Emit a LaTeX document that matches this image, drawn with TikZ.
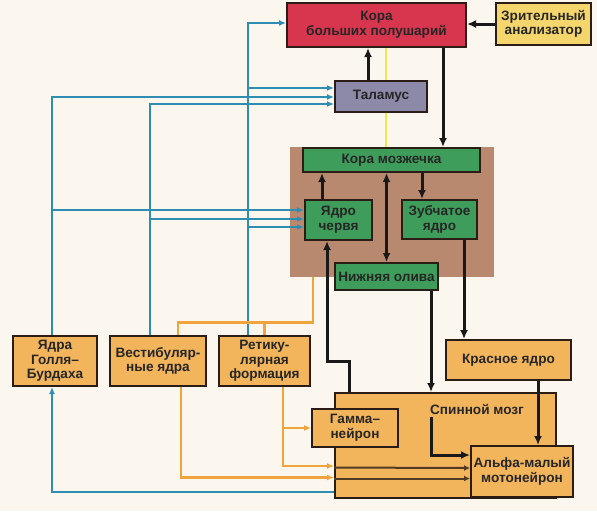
\documentclass[tikz,border=0pt]{standalone}
\usepackage{fontspec}
\setmainfont{Liberation Sans}
\usetikzlibrary{arrows.meta,calc}
\definecolor{paper}{HTML}{FBF7EE}
\definecolor{cortexred}{HTML}{D8364E}
\definecolor{visyellow}{HTML}{F5D66C}
\definecolor{thalgray}{HTML}{8D89A8}
\definecolor{cblbrown}{HTML}{B8896F}
\definecolor{cblgreen}{HTML}{3F9D5B}
\definecolor{boxorange}{HTML}{F3B55C}
\definecolor{edge}{HTML}{2B1D15}
\definecolor{nerveblue}{HTML}{2E8DB3}
\definecolor{nerveorange}{HTML}{F2A43C}
\definecolor{nerveyellow}{HTML}{F1E64A}
\begin{document}
\begin{tikzpicture}[x=0.5pt, y=-0.5pt,
    box/.style={draw=edge, line width=1pt, align=center, inner sep=0pt, text=black!85,
        font=\fontsize{6.8}{7.3}\selectfont\bfseries},
    blk/.style={draw=black!90, line width=1.5pt, -{Latex[length=4.5pt,width=4pt]}},
    dbl/.style={blk, {Latex[length=4.5pt,width=4pt]}-{Latex[length=4.5pt,width=4pt]}},
    bl/.style={draw=nerveblue, line width=1.2pt, -{Latex[length=3.5pt,width=3pt]}},
    orl/.style={draw=nerveorange, line width=1.1pt},
    ora/.style={orl, -{Latex[length=3.5pt,width=3pt]}},
    dk/.style={draw=edge!80!boxorange, line width=1pt, -{Latex[length=3pt,width=3pt]}}]
        \fill[paper] (0,0) rectangle (597,511);
        \node[fill=cblbrown, minimum width=102pt, minimum height=65pt] (cbl) at (392,212) {};
        \node[box, fill=cortexred, minimum width=89.5pt, minimum height=22pt] (cortex) at (376.5,25) {Кора\\больших полушарий};
        \node[box, fill=visyellow, minimum width=47.5pt, minimum height=21pt] (visual) at (543.5,24) {Зрительный\\анализатор};
        \node[box, fill=cblgreen, minimum width=88.5pt, minimum height=12pt] (ccx) at (391.5,160) {Кора мозжечка};
        \coordinate (yl) at ($(cortex.south)+(9.5,0)$);
        \draw[nerveyellow, line width=1.2pt] (yl) -- (yl |- ccx.north);
        \node[box, fill=thalgray, minimum width=46pt, minimum height=15.5pt] (thal) at (381,96) {Таламус};
        \node[box, fill=cblgreen, minimum width=33.5pt, minimum height=20pt] (verm) at (338.5,220) {Ядро\\червя};
        \node[box, fill=cblgreen, minimum width=37.5pt, minimum height=19.5pt] (dent) at (439.5,219.5) {Зубчатое\\ядро};
        \node[box, fill=cblgreen, minimum width=51.5pt, minimum height=13.5pt] (oliva) at (386.5,276.5) {Нижняя олива};
        \node[box, fill=boxorange, minimum width=42pt, minimum height=25pt] (goll) at (55,361) {Ядра\\Голля–\\Бурдаха};
        \node[box, fill=boxorange, minimum width=48pt, minimum height=25pt] (vest) at (158,361) {Вестибуляр-\\ные ядра};
        \node[box, fill=boxorange, minimum width=45.5pt, minimum height=25pt] (retic) at (264.5,361) {Ретику-\\лярная\\формация};
        \node[box, fill=boxorange, minimum width=62.5pt, minimum height=20pt] (red) at (508.5,360) {Красное ядро};
        \node[box, fill=boxorange, minimum width=110.5pt, minimum height=52.5pt] (spinal) at (445.5,445.5) {};
        \node[font=\fontsize{6.8}{7.3}\selectfont\bfseries, text=black!85] (spinlbl) at (477,409) {Спинной мозг};
        \node[box, fill=boxorange, minimum width=43pt, minimum height=19pt] (gamma) at (355,428) {Гамма–\\нейрон};
        \node[box, fill=boxorange, minimum width=51pt, minimum height=25.5pt] (alpha) at (522,471.5) {Альфа-малый\\мотонейрон};
        \coordinate (thin) at ($(thal.north)+(-13,0)$);
        \draw[blk] (thin) -- (thin |- cortex.south);
        \coordinate (cxout) at ($(cortex.south)+(66.5,0)$);
        \draw[blk] (cxout) -- (cxout |- ccx.north);
        \draw[blk] (visual.west) -- (cortex.east |- visual.west);
        \coordinate (vmout) at ($(verm.north)+(-16.5,0)$);
        \draw[blk] (vmout) -- (vmout |- ccx.south);
        \draw[dbl] (oliva.north) -- (oliva.north |- ccx.south);
        \coordinate (dnin) at ($(dent.north)+(-17.5,0)$);
        \draw[blk] (dnin |- ccx.south) -- (dnin);
        \coordinate (dnout) at ($(dent.south)+(24.5,0)$);
        \draw[blk] (dnout) -- (dnout |- red.north);
        \coordinate (olout) at ($(oliva.south)+(44.5,0)$);
        \draw[blk] (olout) -- (olout |- spinal.north);
        \coordinate (spin1) at ($(olout |- spinal.north)+(0,25)$);
        \draw[blk] (spin1) |- ($(alpha.west)+(0,-16.5)$);
        \coordinate (spout) at ($(spinal.north)+(-96.5,0)$);
        \coordinate (vmin) at ($(verm.south)+(-11.5,0)$);
        \draw[blk] (spout) -- ++(0,-31) -| (vmin);
        \coordinate (rdout) at ($(red.south)+(29.5,0)$);
        \draw[blk] (rdout) -- (rdout |- alpha.north);
        \coordinate (ta) at ($(thal.west)+(0,-8)$);
        \coordinate (tb) at ($(thal.west)+(0,1)$);
        \coordinate (tc) at ($(thal.west)+(0,8)$);
        \coordinate (va) at ($(verm.west)+(0,-10)$);
        \coordinate (vb) at ($(verm.west)+(0,-1)$);
        \coordinate (vc) at ($(verm.west)+(0,7)$);
        \coordinate (gup) at ($(goll.north)+(-3,0)$);
        \coordinate (vup) at ($(vest.north)+(-8,0)$);
        \coordinate (rup) at ($(retic.north)+(-16.5,0)$);
        \draw[bl] (gup) |- (tb);
        \draw[bl] (gup |- va) -- (va);
        \draw[bl] (vup) |- (tc);
        \draw[bl] (vup |- vb) -- (vb);
        \draw[bl] (rup) |- ($(cortex.west)+(0,-2)$);
        \draw[bl] (rup |- ta) -- (ta);
        \draw[bl] (rup |- vc) -- (vc);
        \draw[bl] ($(spinal.west)+(0,46.5)$) -| ($(goll.south)+(-3,0)$);
        \coordinate (obot) at ($(cbl.south)+(-79,0)$);
        \coordinate (ojoin) at ($(obot)+(0,45)$);
        \draw[orl] (obot) -- (ojoin) -| ($(vest.north)+(20,0)$);
        \draw[orl] (retic.north |- ojoin) -- (retic.north);
        \coordinate (vdn) at ($(vest.south)+(23,0)$);
        \coordinate (rdn) at ($(retic.south)+(18.5,0)$);
        \draw[ora] (vdn) |- ($(spinal.west)+(0,32)$);
        \draw[ora] (rdn) |- ($(spinal.west)+(0,20.5)$);
        \draw[ora] (rdn |- gamma.west) -- (gamma.west);
        \draw[dk] ($(spinal.west)+(0,22)$) -- ($(alpha.west)+(0,-3.5)$);
        \draw[dk] ($(spinal.west)+(0,33)$) -- ($(alpha.west)+(0,7)$);
\end{tikzpicture}
\end{document}
